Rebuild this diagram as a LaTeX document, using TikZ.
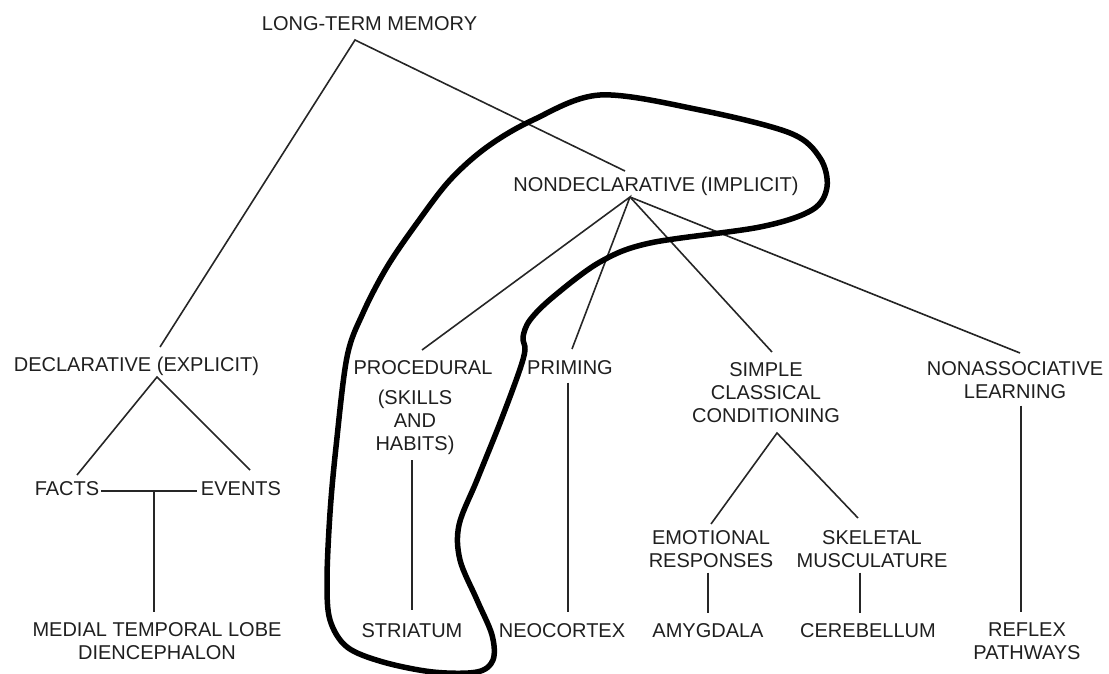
\documentclass[tikz,border=0pt]{standalone}
\usepackage{fontspec}
\setmainfont{Liberation Sans}
\begin{document}
\begin{tikzpicture}[x=1pt,y=-1pt,
  lbl/.style={anchor=north, inner sep=0pt, align=center, font=\fontsize{20}{23}\selectfont, text=black!88},
  conn/.style={line width=1.6pt, draw=black!85},
  loopline/.style={line width=5.5pt, line join=round}]
\useasboundingbox (0,0) rectangle (1109,674);
% labels
\node[lbl] (ltm) at (369.5,16.5) {LONG-TERM MEMORY};
\node[lbl] (nondecl) at (656,177) {NONDECLARATIVE (IMPLICIT)};
\node[lbl] (decl) at (136.5,357) {DECLARATIVE (EXPLICIT)};
\node[lbl] (facts) at (67,481.5) {FACTS};
\node[lbl] (events) at (241,481.5) {EVENTS};
\node[lbl] (mtl) at (157,622) {MEDIAL TEMPORAL LOBE\\DIENCEPHALON};
\node[lbl] (proc) at (423,360) {PROCEDURAL};
\node[lbl] (skills) at (415,390) {(SKILLS\\AND\\HABITS)};
\node[lbl] (striatum) at (412,623) {STRIATUM};
\node[lbl] (priming) at (570,360) {PRIMING};
\node[lbl] (neocortex) at (562,623) {NEOCORTEX};
\node[lbl] (simple) at (766,362) {SIMPLE\\CLASSICAL\\CONDITIONING};
\node[lbl] (emotional) at (711,530) {EMOTIONAL\\RESPONSES};
\node[lbl] (skeletal) at (872,530) {SKELETAL\\MUSCULATURE};
\node[lbl] (amygdala) at (708,623) {AMYGDALA};
\node[lbl] (cerebellum) at (868,623) {CEREBELLUM};
\node[lbl] (nonassoc) at (1015,361) {NONASSOCIATIVE\\LEARNING};
\node[lbl] (reflex) at (1027,623) {REFLEX\\PATHWAYS};
% junctions and line ends
\coordinate (ltmJ) at (355,40);
\coordinate (declT) at (160,347);
\coordinate (ndT) at (625,171);
\coordinate (ndJ) at (630,197);
\coordinate (procT) at (422,350);
\coordinate (primT) at (572,349);
\coordinate (simpT) at (772,352);
\coordinate (nonaT) at (1020,353);
\coordinate (declJ) at (157,377);
\coordinate (factsT) at (77,475);
\coordinate (eventsT) at (250,470);
\coordinate (feJ) at (154,491);
\coordinate (simpJ) at (777,433);
\coordinate (emoT) at (711,524);
\coordinate (skelT) at (858,518);
% connectors
\draw[conn] (declT) -- (ltmJ) -- (ndT);
\draw[conn] (procT) -- (ndJ) -- (primT);
\draw[conn] (ndJ) -- (simpT);
\draw[conn] (ndJ) -- (nonaT);
\draw[conn] (factsT) -- (declJ) -- (eventsT);
\draw[conn] ([shift={(2,2)}]facts.east) -- ([shift={(-4,2)}]events.west);
\draw[conn] (feJ) -- ([shift={(-3,-10)}]mtl.north);
\draw[conn] ([shift={(-3,5)}]skills.south) -- ([shift={(0,-13)}]striatum.north);
\draw[conn] ([shift={(-2,8)}]priming.south) -- ([shift={(6,-11)}]neocortex.north);
\draw[conn] (emoT) -- (simpJ) -- (skelT);
\draw[conn] ([shift={(-3,5)}]emotional.south) -- ([shift={(0,-10)}]amygdala.north);
\draw[conn] ([shift={(-12,5)}]skeletal.south) -- ([shift={(-8,-10)}]cerebellum.north);
\draw[conn] ([shift={(6,7)}]nonassoc.south) -- ([shift={(-6,-11)}]reflex.north);
% thick enclosing loop
\draw[loopline] plot[smooth cycle, tension=0.55] coordinates {
 (600,95) (700,110) (790,133) (820,158) (827,187) (812,210) (760,227)
 (650,243) (600,262) (553,297) (530,320) (523,337) (525,350) (519,372)
 (500,423) (477,480) (459,525) (460,560) (477,600) (492,635) (493,660)
 (477,672) (433,672) (383,662) (347,647) (330,620) (327,580) (330,513)
 (336,447) (347,357) (363,313) (387,267) (417,223) (450,180) (487,147) (533,120)};
\end{tikzpicture}
\end{document}
